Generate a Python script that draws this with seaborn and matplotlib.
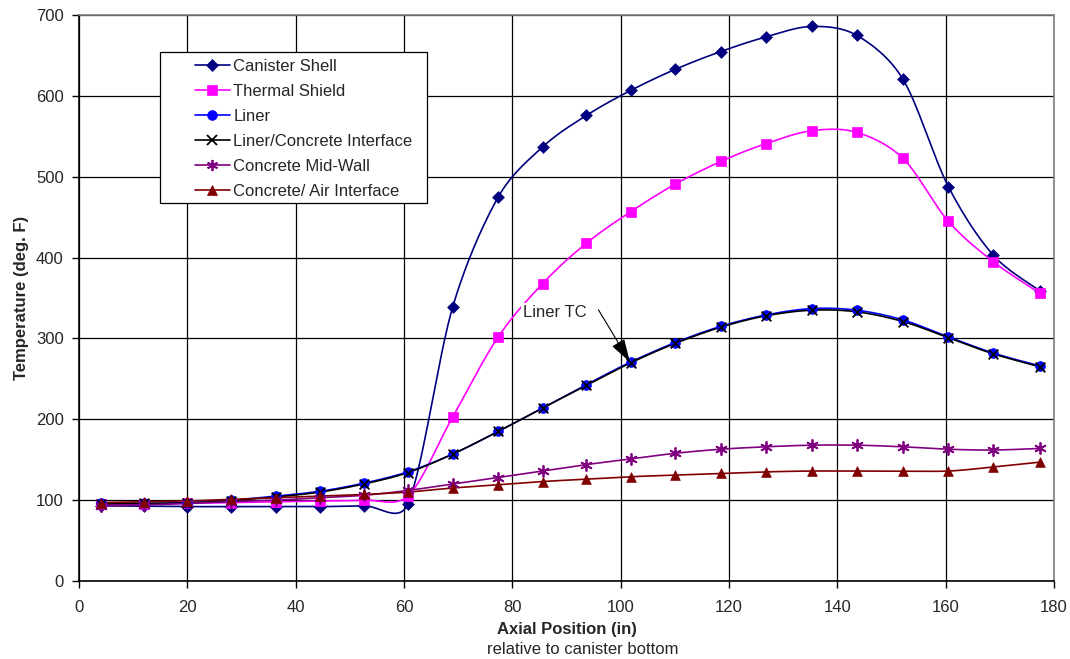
import numpy as np
import pandas as pd
import matplotlib
matplotlib.use("Agg")
import matplotlib.pyplot as plt
from matplotlib.lines import Line2D
from matplotlib.patches import Rectangle
import seaborn as sns

# axial positions (in) of the measurement stations
axial_pos = [4.0, 12.0, 20.0, 28.1, 36.4, 44.5, 52.6, 60.7, 69.0, 77.4, 85.6,
             93.7, 101.9, 110.1, 118.5, 126.8, 135.3, 143.6, 152.1, 160.5, 168.8, 177.4]

canister_shell = [93, 92.5, 92, 92, 92, 92, 93, 95, 339, 475, 537, 576, 607, 633,
                  655, 673, 686, 675, 621, 488, 403, 359]
thermal_shield = [95, 95, 96, 97, 98, 99, 100, 105, 203, 302, 368, 418, 457, 491,
                  519, 541, 557, 555, 523, 445, 395, 356]
liner = [96, 96, 97, 100, 105, 111, 121, 135, 157, 185, 214, 243, 271, 295,
         315, 329, 337, 335, 323, 302, 282, 266]
liner_concrete = [95.5, 96, 96.5, 99.5, 104, 110, 120, 134, 157, 185, 214, 242, 270, 294,
                  314, 328, 335, 333, 321, 301, 281, 265]
concrete_midwall = [93, 94, 96, 98, 100, 103, 106, 112, 120, 128, 136, 144, 151, 158,
                    163, 166, 168, 168, 166, 163, 162, 164]
concrete_air = [97, 98, 99, 101, 103, 105, 107, 110, 115, 119, 123, 126, 129, 131,
                133, 135, 136, 136, 136, 136, 141, 147]

series = [
    ("Canister Shell", canister_shell, "#000080", "D", 6),
    ("Thermal Shield", thermal_shield, "#FF00FF", "s", 7),
    ("Liner", liner, "#0000FF", "o", 7),
    ("Liner/Concrete Interface", liner_concrete, "#000000", "x", 7),
    ("Concrete Mid-Wall", concrete_midwall, "#800080", (6, 2, 0), 8),
    ("Concrete/ Air Interface", concrete_air, "#800000", "^", 7),
]

# pixel scale of the plot area, used so the smoothing behaves like on screen
SX, SY = 975 / 180, 566 / 700


def smooth(x, y, n=30):
    # smoothed line: cubic bezier, catmull-rom arms damped next to short segments
    x = np.asarray(x, float)
    y = np.asarray(y, float)
    px = np.concatenate([[x[0]], x, [x[-1]]])
    py = np.concatenate([[y[0]], y, [y[-1]]])
    pts = np.column_stack([px, py])
    seg = np.hypot(np.diff(px) * SX, np.diff(py) * SY)
    xs, ys = [], []
    t = np.linspace(0, 1, n)[:, None]
    for i in range(1, len(px) - 2):
        p0, p3 = pts[i], pts[i + 1]
        cur = seg[i]
        f1 = np.sqrt(min(1.0, 2 * cur / (cur + seg[i - 1]))) if seg[i - 1] > 0 else 1.0
        f2 = np.sqrt(min(1.0, 2 * cur / (cur + seg[i + 1]))) if seg[i + 1] > 0 else 1.0
        c1 = p0 + f1 * (pts[i + 1] - pts[i - 1]) / 6
        c2 = p3 - f2 * (pts[i + 2] - pts[i]) / 6
        b = (1 - t) ** 3 * p0 + 3 * (1 - t) ** 2 * t * c1 + 3 * (1 - t) * t ** 2 * c2 + t ** 3 * p3
        xs.extend(b[:, 0])
        ys.extend(b[:, 1])
    return np.array(xs), np.array(ys)


sns.set_style("white")
plt.rcParams["font.family"] = ["Liberation Sans", "DejaVu Sans"]

fig = plt.figure(figsize=(10.7, 6.59), dpi=100)
ax = fig.add_axes([0.0738, 0.1184, 0.9112, 0.8586])

handles = []
for name, vals, color, marker, ms in series:
    sx, sy = smooth(axial_pos, vals)
    ax.plot(sx, sy, color=color, lw=1.2, zorder=3)
    thin = marker in ("x", (6, 2, 0))
    df = pd.DataFrame({"x": axial_pos, "y": vals})
    sns.scatterplot(data=df, x="x", y="y", ax=ax, marker=marker, s=ms ** 2,
                    color=color, edgecolor=color, linewidth=1.3 if thin else 0.5,
                    zorder=4, legend=False)
    handles.append(Line2D([0], [0], color=color, lw=1.2, marker=marker,
                          markersize=ms, markeredgewidth=1.3 if thin else 0.5,
                          markerfacecolor=color, markeredgecolor=color, label=name))

ax.set_xlim(0, 180)
ax.set_ylim(0, 700)
ax.set_xticks(range(0, 181, 20))
ax.set_yticks(range(0, 701, 100))
ax.grid(True, color="black", lw=0.9)
ax.set_axisbelow(True)
for side, sp in ax.spines.items():
    sp.set_color("black" if side in ("left", "bottom") else "#808080")
    sp.set_linewidth(1.2)
ax.tick_params(axis="both", direction="out", length=5, width=1, color="black",
               labelsize=12, bottom=True, left=True, pad=6)
ax.tick_params(axis="x", pad=9)

ax.set_xlabel("Axial Position (in)", fontsize=12, fontweight="bold", labelpad=5)
ax.set_ylabel("Temperature (deg. F)", fontsize=12, fontweight="bold", labelpad=5)
fig.text(0.5445, 0.0145, "relative to canister bottom", ha="center", va="center", fontsize=12)

# callout for the liner thermocouple
ax.text(82.0, 332, "Liner TC", fontsize=12, va="center", ha="left", zorder=6,
        bbox=dict(boxstyle="square,pad=0.1", fc="white", ec="none"))
ax.annotate("", xy=(101.7, 271), xytext=(95.9, 335.5), zorder=6,
            arrowprops=dict(arrowstyle="-|>,head_length=0.9,head_width=0.28",
                            color="black", lw=0.8, mutation_scale=16,
                            shrinkA=0, shrinkB=0))

# legend box drawn separately so the padding matches the original
ax.add_patch(Rectangle((0.0831, 0.668), 0.2739, 0.2666, transform=ax.transAxes,
                       fc="white", ec="black", lw=0.9, zorder=5))
leg = ax.legend(handles=handles, loc="upper left", bbox_to_anchor=(0.119, 0.922),
                fontsize=12, frameon=False, handlelength=2.1, handletextpad=0.2,
                borderpad=0, labelspacing=0.6, borderaxespad=0)
leg.set_zorder(6)

plt.savefig("out.png", dpi=100)
